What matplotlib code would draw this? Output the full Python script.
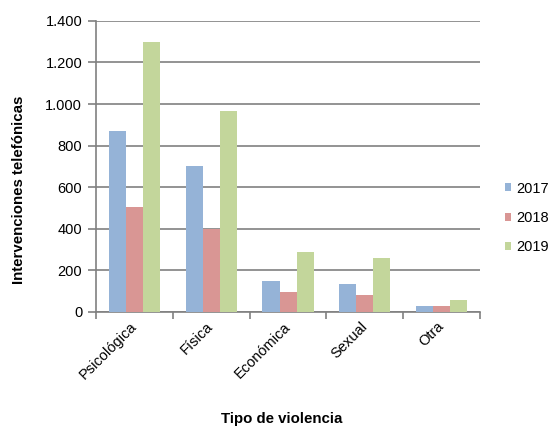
import numpy as np
import matplotlib
matplotlib.use('Agg')
import matplotlib.pyplot as plt
from matplotlib.ticker import FuncFormatter

plt.rcParams['font.family'] = ['Liberation Sans', 'DejaVu Sans']

# Datos
categorias = ['Psicológica', 'Física', 'Económica', 'Sexual', 'Otra']
anios = ['2017', '2018', '2019']
v2017 = [872, 702, 149, 133, 26]
v2018 = [503, 400, 96, 83, 26]
v2019 = [1300, 967, 288, 261, 59]
colores = ['#95B3D7', '#D99694', '#C3D69B']

fig = plt.figure(figsize=(5.55, 4.26), dpi=100)
ax = fig.add_axes([0.173, 0.268, 0.692, 0.683])

x = np.arange(len(categorias))
w = 0.222
for i, (vals, anio) in enumerate(zip([v2017, v2018, v2019], anios)):
    ax.bar(x + (i - 1) * w, vals, w, color=colores[i], label=anio, zorder=3)

ax.set_xlim(-0.5, len(categorias) - 0.5)
ax.set_ylim(0, 1400)
ax.set_yticks(np.arange(0, 1401, 200))
ax.yaxis.set_major_formatter(FuncFormatter(lambda v, p: f'{int(v):,}'.replace(',', '.')))
ax.grid(axis='y', color='#808080', linewidth=1.2, zorder=0)

# Marcas del eje x en los límites de categoría
ax.set_xticks(np.arange(-0.5, len(categorias), 1))
ax.set_xticklabels([])
ax.set_xticks(x, minor=True)
ax.set_xticklabels(categorias, minor=True, rotation=45, ha='right', va='center',
                   rotation_mode='anchor', fontsize=10.5)
ax.tick_params(axis='x', which='minor', length=0, pad=9)
ax.tick_params(axis='x', which='major', length=5, color='#808080', width=1.2)
ax.tick_params(axis='y', length=6, color='#808080', width=1.2, labelsize=10.5, pad=4)

for s in ['top', 'right']:
    ax.spines[s].set_visible(False)
for s in ['left', 'bottom']:
    ax.spines[s].set_color('#808080')
    ax.spines[s].set_linewidth(1.2)

fig.text(0.034, 0.554, 'Intervenciones telefónicas', fontsize=10.8, fontweight='bold',
         rotation=90, ha='center', va='center')
fig.text(0.508, 0.016, 'Tipo de violencia', fontsize=10.8, fontweight='bold',
         ha='center', va='center')

ax.legend(loc='center left', bbox_to_anchor=(1.03, 0.323), frameon=False, fontsize=10.5,
          handlelength=0.45, handleheight=0.45, handletextpad=0.35, labelspacing=1.05)

fig.savefig('out.png', dpi=100)
